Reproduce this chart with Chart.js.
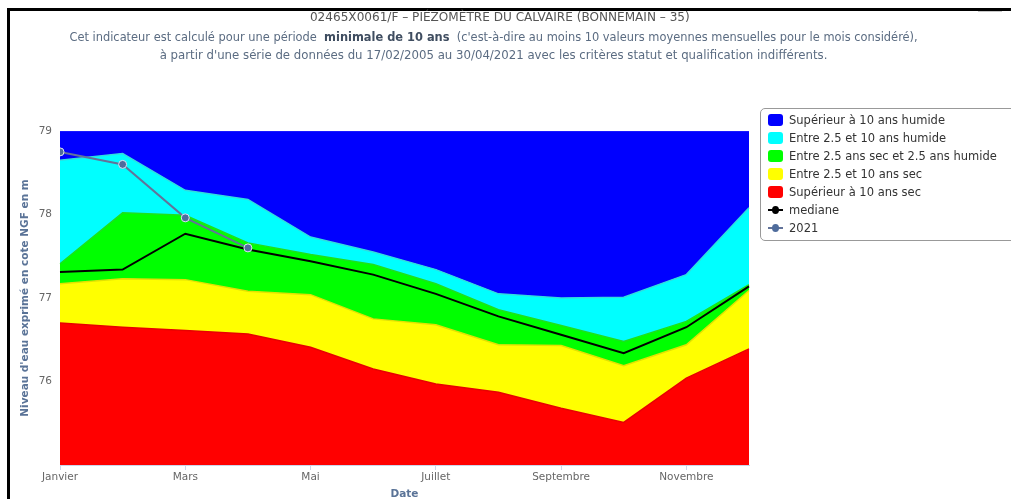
<!DOCTYPE html>
<html lang="fr">
<head>
<meta charset="utf-8">
<script src="https://cdn.jsdelivr.net/npm/chart.js@4.4.1/dist/chart.umd.min.js"></script>
<style>
  body { margin: 0; background: #fff; }
  #wrap { position: relative; width: 1011px; height: 499px; overflow: hidden; background: #fff; }
  #chart { position: absolute; left: 0; top: 0; }
  .frame-top { position: absolute; left: 7px; top: 8px; width: 1004px; height: 3px; background: #000; }
  .frame-left { position: absolute; left: 7px; top: 8px; width: 3px; height: 491px; background: #000; }
  .export { position: absolute; left: 978px; top: 11px; width: 24px; height: 1px; background: #c8c8c8; }
  .txt { position: absolute; white-space: nowrap; text-align: center;
         font-family: "Liberation Sans Narrow", "DejaVu Sans Condensed", "Liberation Sans", sans-serif;
         font-size: 13px; line-height: 18px; }
  .txt span { display: inline-block; transform-origin: center center; }
  .t1 { left: 0; width: 1000px; top: 8px; color: #555; }
  .t2 { left: 0; width: 988px; color: #5b6c82; }
  .t2 b { color: #3f4d60; }
  #legend { position: absolute; left: 760px; top: 108px; width: 280px; height: 133px;
            border: 1px solid #999; border-radius: 5px; box-sizing: border-box;
            padding: 2px 0 0 7px; font-family: "DejaVu Sans", sans-serif; font-size: 11.5px; color: #333; }
  .item { height: 18px; line-height: 18px; display: flex; align-items: center; }
  .sw { width: 15px; height: 12px; border-radius: 3px; margin-right: 6px; }
  .ln { position: relative; width: 15px; height: 2px; margin-right: 6px; }
  .ln i { position: absolute; left: 4px; top: -3px; width: 7px; height: 8px; border-radius: 50%; }
</style>
</head>
<body>
<div id="wrap">
  <canvas id="chart" width="1011" height="499"></canvas>
  <div class="frame-top"></div>
  <div class="frame-left"></div>
  <div class="export"></div>
  <div class="txt t1"><span data-w="380">02465X0061/F – PIÉZOMÈTRE DU CALVAIRE (BONNEMAIN – 35)</span></div>
  <div class="txt t2" style="top:28px"><span data-w="848">Cet indicateur est calculé pour une période&nbsp; <b>minimale de 10 ans</b> &nbsp;(c'est-à-dire au moins 10 valeurs moyennes mensuelles pour le mois considéré),</span></div>
  <div class="txt t2" style="top:46px"><span data-w="668">à partir d'une série de données du 17/02/2005 au 30/04/2021 avec les critères statut et qualification indifférents.</span></div>
  <div id="legend"></div>
</div>
<script>
const months = ["Janvier", "Février", "Mars", "Avril", "Mai", "Juin",
                "Juillet", "Août", "Septembre", "Octobre", "Novembre", "Décembre"];

// limites hautes de chaque bande (m NGF)
const sec10 = [76.70, 76.65, 76.61, 76.57, 76.41, 76.15, 75.97, 75.87, 75.68, 75.51, 76.04, 76.39];
const sec25 = [77.17, 77.23, 77.22, 77.08, 77.04, 76.75, 76.68, 76.44, 76.43, 76.19, 76.44, 77.09];
const normale = [77.41, 78.02, 77.99, 77.66, 77.52, 77.40, 77.17, 76.86, 76.67, 76.48, 76.72, 77.16];
const hum25 = [78.65, 78.73, 78.29, 78.18, 77.73, 77.55, 77.34, 77.05, 77.00, 77.01, 77.28, 78.08];
const hum10 = [79, 79, 79, 79, 79, 79, 79, 79, 79, 79, 79, 79];

const mediane = [77.31, 77.34, 77.77, 77.58, 77.44, 77.28, 77.05, 76.78, 76.56, 76.34, 76.65, 77.14];
const annee2021 = [78.75, 78.60, 77.96, 77.60, null, null, null, null, null, null, null, null];

const yTicks = [76, 77, 78, 79];

function band(label, data, color, line, fill, order) {
  return {
    label, data, fill, order,
    backgroundColor: color,
    borderColor: line,
    borderWidth: 1.5,
    pointRadius: 0,
    tension: 0
  };
}

const datasets = [
  band("Supérieur à 10 ans sec", sec10, "#ff0000", "#e80000", "start", 2),
  band("Entre 2.5 et 10 ans sec", sec25, "#ffff00", "#e2e200", "-1", 3),
  band("Entre 2.5 ans sec et 2.5 ans humide", normale, "#00ff00", "#1ee01e", "-1", 4),
  band("Entre 2.5 et 10 ans humide", hum25, "#00ffff", "#30dede", "-1", 5),
  band("Supérieur à 10 ans humide", hum10, "#0000ff", "#2020ff", "-1", 6),
  {
    label: "mediane", data: mediane, order: 1, fill: false,
    borderColor: "#000", backgroundColor: "#000", borderWidth: 2, pointRadius: 0, tension: 0
  },
  {
    label: "2021", data: annee2021, order: 0, fill: false, clip: 0,
    borderColor: "#62739a", backgroundColor: "#4f6c9c", borderWidth: 2,
    pointRadius: 4, pointBackgroundColor: "#4f6c9c", pointBorderColor: "#dfe3f4", pointBorderWidth: 1,
    tension: 0
  }
];

const axisTitle = "#5a7397";

new Chart(document.getElementById("chart").getContext("2d"), {
  type: "line",
  data: { labels: months, datasets },
  options: {
    responsive: false,
    animation: false,
    layout: { padding: { left: 0, top: 131, right: 262, bottom: 0 } },
    plugins: { legend: { display: false }, tooltip: { enabled: false } },
    scales: {
      x: {
        offset: false,
        afterFit: s => { s.height = 34; },
        border: { display: true, color: "#ccd6eb", width: 1 },
        grid: {
          drawOnChartArea: false, drawTicks: true, tickLength: 5,
          color: c => c.index % 2 === 0 ? "#ccd6eb" : "rgba(0,0,0,0)"
        },
        ticks: {
          autoSkip: false, maxRotation: 0, padding: 1,
          color: "#666", font: { family: "DejaVu Sans", size: 10.5 },
          callback: (v, i) => i % 2 === 0 ? months[i] : ""
        },
        title: {
          display: true, text: "Date", color: axisTitle,
          font: { family: "DejaVu Sans", size: 10.5, weight: "bold" },
          padding: { top: 0, bottom: -2 }
        }
      },
      y: {
        min: 75, max: 79,
        afterFit: s => { s.width = 60; },
        afterBuildTicks: s => { s.ticks = yTicks.map(v => ({ value: v })); },
        border: { display: false },
        grid: { display: false, drawTicks: false },
        ticks: { padding: 8, color: "#666", font: { family: "DejaVu Sans", size: 10.5 } },
        title: {
          display: true, text: "Niveau d'eau exprimé en cote NGF en m", color: axisTitle,
          font: { family: "DejaVu Sans", size: 10.5, weight: "bold" },
          padding: { top: 19, bottom: 0 }
        }
      }
    }
  }
});

// légende html, dans l'ordre de l'original
const legend = document.getElementById("legend");
[4, 3, 2, 1, 0].forEach(i => {
  const d = datasets[i];
  legend.insertAdjacentHTML("beforeend",
    `<div class="item"><div class="sw" style="background:${d.backgroundColor}"></div>${d.label}</div>`);
});
[5, 6].forEach(i => {
  const d = datasets[i];
  legend.insertAdjacentHTML("beforeend",
    `<div class="item"><div class="ln" style="background:${d.borderColor}"><i style="background:${d.backgroundColor}"></i></div>${d.label}</div>`);
});

// ajuste la largeur des lignes de titre
document.querySelectorAll(".txt span").forEach(sp => {
  const w = sp.getBoundingClientRect().width;
  sp.style.transform = `scaleX(${(+sp.dataset.w / w).toFixed(3)})`;
});
</script>
</body>
</html>
